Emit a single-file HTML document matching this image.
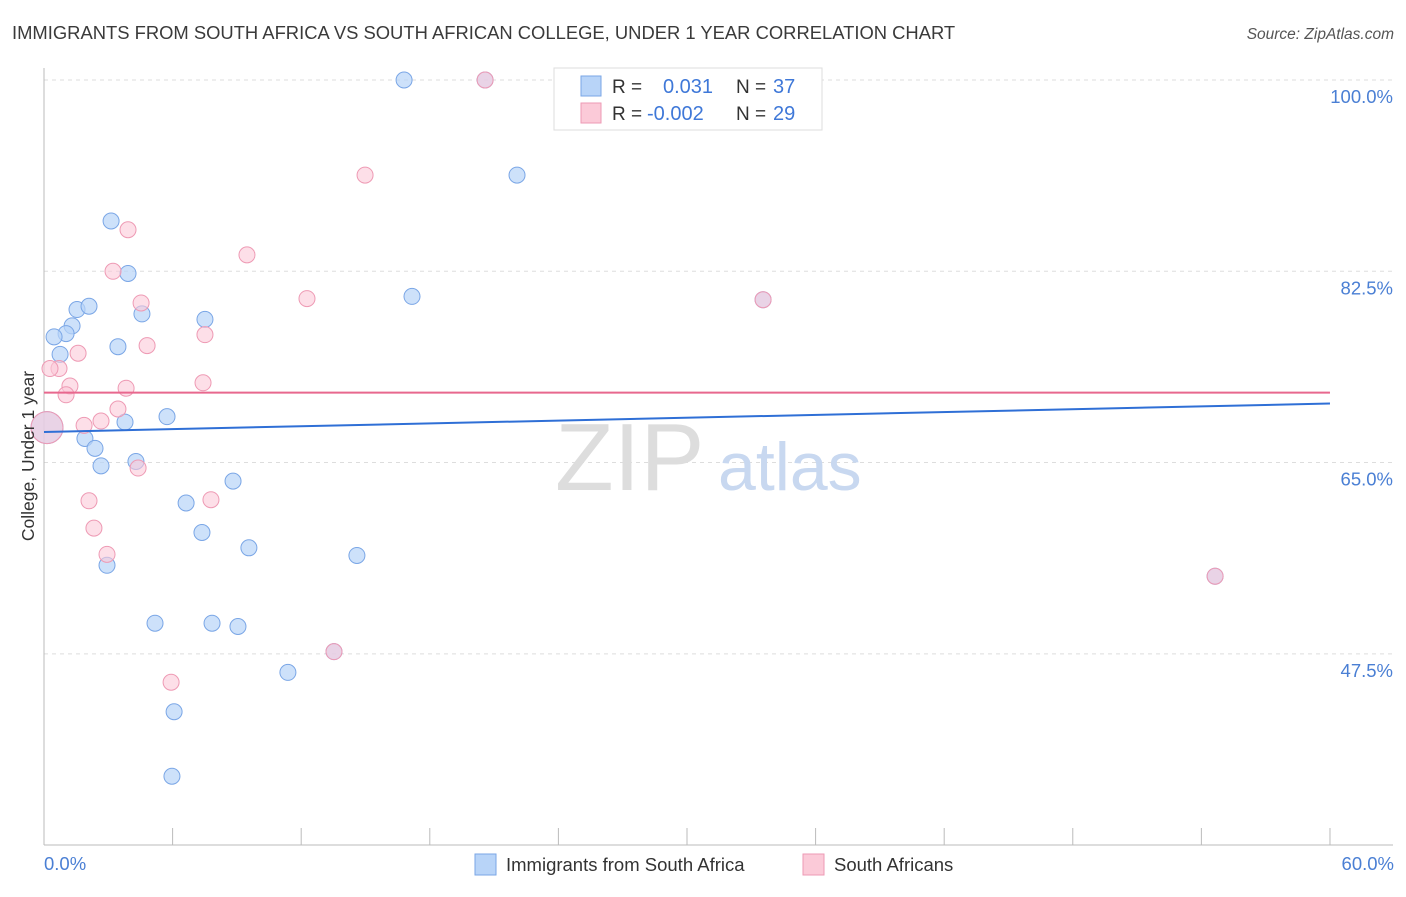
<!DOCTYPE html>
<html><head><meta charset="utf-8"><style>
body{margin:0;background:#fff;font-family:"Liberation Sans",sans-serif;}
svg text{font-family:"Liberation Sans",sans-serif;}
</style></head><body>
<svg width="1406" height="892" xmlns="http://www.w3.org/2000/svg">
<text x="12" y="39" font-size="18.4" fill="#3a3a3a">IMMIGRANTS FROM SOUTH AFRICA VS SOUTH AFRICAN COLLEGE, UNDER 1 YEAR CORRELATION CHART</text>
<text x="1394" y="39" font-size="15.5" fill="#555" font-style="italic" text-anchor="end">Source: ZipAtlas.com</text>
<g id="grid"></g>
<text x="555" y="490" font-size="96" fill="#ddd" font-family="Liberation Serif">ZIP</text>
<text x="718" y="490" font-size="68" fill="#c8d8f0">atlas</text>
<g id="marks"></g>
<text x="34" y="456" font-size="17.5" fill="#333" transform="rotate(-90 34 456)" text-anchor="middle">College, Under 1 year</text>
<text x="44" y="870" font-size="18.5" fill="#4a7fd4">0.0%</text>
<text x="1394" y="870" font-size="18.5" fill="#4a7fd4" text-anchor="end">60.0%</text>
<g>
<rect x="554" y="68" width="268" height="62" fill="#fff" stroke="#ddd"/>
<rect x="581" y="76" width="20" height="20" fill="#b8d4f8" stroke="#7aa6e6"/>
<text x="612" y="93" font-size="19" fill="#333">R = </text><text x="663" y="93" font-size="20" fill="#3f78d8">0.031</text>
<text x="736" y="93" font-size="19" fill="#333">N = </text><text x="773" y="93" font-size="20" fill="#3f78d8">37</text>
<rect x="581" y="103" width="20" height="20" fill="#fbcad8" stroke="#ee9ab4"/>
<text x="612" y="120" font-size="19" fill="#333">R = </text><text x="647" y="120" font-size="20" fill="#3f78d8">-0.002</text>
<text x="736" y="120" font-size="19" fill="#333">N = </text><text x="773" y="120" font-size="20" fill="#3f78d8">29</text>
</g>
<g>
<rect x="475" y="854" width="21" height="21" fill="#b8d4f8" stroke="#7aa6e6"/>
<text x="506" y="871" font-size="18.5" fill="#333">Immigrants from South Africa</text>
<rect x="803" y="854" width="21" height="21" fill="#fbcad8" stroke="#ee9ab4"/>
<text x="834" y="871" font-size="18.5" fill="#333">South Africans</text>
</g>
</svg>
<script>
const yTicks=[100,82.5,65,47.5];
const xTicks=[0,6,12,18,24,30,36,42,48,54,60];
const blueX=[16.8,22.07,3.13,3.92,17.17,1.54,2.10,4.57,7.51,1.31,1.03,0.47,3.45,0.75,5.74,3.78,0.14,1.91,2.38,2.66,4.29,8.82,6.63,7.37,9.56,14.6,2.94,5.18,7.84,9.05,11.38,6.07,5.97,20.58,33.55,54.64,13.53];
const blueY=[100,91.3,87.1,82.3,80.2,79.0,79.3,78.6,78.1,77.5,76.8,76.5,75.6,74.9,69.2,68.7,68.2,67.2,66.3,64.7,65.1,63.3,61.3,58.6,57.2,56.5,55.6,50.3,50.3,50.0,45.8,42.2,36.3,100,79.9,54.6,47.7];
const pinkX=[20.58,14.98,3.92,9.47,3.22,12.27,4.53,33.55,7.51,4.81,1.59,0.70,0.28,1.21,3.83,7.42,1.03,3.45,2.66,1.87,4.39,2.10,7.79,2.33,2.94,54.64,13.53,5.93,0.14];
const pinkY=[100,91.3,86.3,84.0,82.5,80.0,79.6,79.9,76.7,75.7,75.0,73.6,73.6,72.0,71.8,72.3,71.2,69.9,68.8,68.4,64.5,61.5,61.6,59.0,56.6,54.6,47.7,44.9,68.2];
const blueTrend=[67.8,70.4];
const pinkTrend=[71.4,71.4];
const NS="http://www.w3.org/2000/svg";
const sx=v=>44+v*21.433;
const sy=v=>80+(100-v)*10.93;
function mk(tag,attrs,parent){const e=document.createElementNS(NS,tag);for(const k in attrs)e.setAttribute(k,attrs[k]);parent.appendChild(e);return e;}
const grid=document.getElementById('grid');
yTicks.forEach(t=>{
 const l=mk('line',{x1:44,x2:1393,y1:sy(t),y2:sy(t),stroke:'#ddd','stroke-dasharray':'4,4'},grid);
 
 
 const tx=mk('text',{x:1393,y:sy(t)+23,'font-size':18.5,fill:'#4a7fd4','text-anchor':'end'},grid);
 tx.textContent=t.toFixed(1)+'%';
 
 
});
const ax=mk('line',{x1:44,x2:44,y1:68,y2:845,stroke:'#bbb'},grid);


const bx=mk('line',{x1:44,x2:1393,y1:845,y2:845,stroke:'#bbb'},grid);


xTicks.forEach(t=>{
 const l=mk('line',{x1:sx(t),x2:sx(t),y1:828,y2:845,stroke:'#bbb'},grid);
 
 
});
const marks=document.getElementById('marks');
blueX.forEach((x,i)=>{
 const big=(x<0.2);
 const c=mk('circle',{cx:sx(x),cy:sy(blueY[i]),r:big?16:8,fill:'#b8d4f8','fill-opacity':0.7,stroke:'#7aa6e6','stroke-width':1},marks);
 
 
});
pinkX.forEach((x,i)=>{
 const big=(x<0.2);
 const c=mk('circle',{cx:sx(x),cy:sy(pinkY[i]),r:big?16:8,fill:'#fbcad8','fill-opacity':0.6,stroke:'#ee9ab4','stroke-width':1},marks);
 
 
});
const bl=mk('line',{x1:sx(0),x2:sx(60),y1:sy(blueTrend[0]),y2:sy(blueTrend[1]),stroke:'#2f6fd6','stroke-width':2},marks);


const pl=mk('line',{x1:sx(0),x2:sx(60),y1:sy(pinkTrend[0]),y2:sy(pinkTrend[1]),stroke:'#e8688e','stroke-width':2},marks);


</script>
</body></html>
